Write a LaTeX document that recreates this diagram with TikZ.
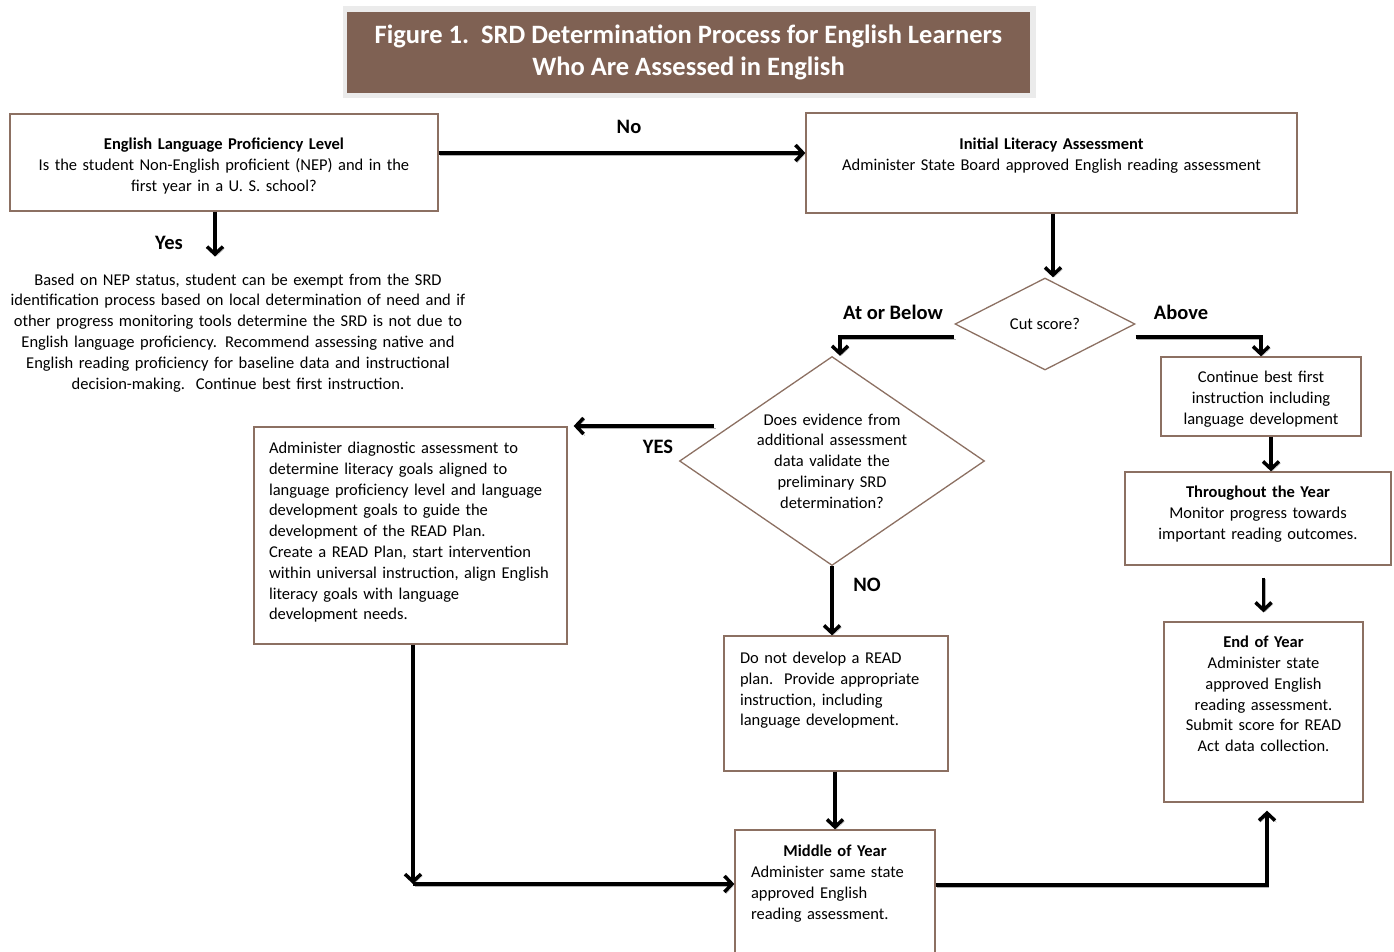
\documentclass[tikz,border=0pt]{standalone}
\usepackage{fontspec}
\setmainfont{Carlito}
\usetikzlibrary{arrows.meta,shapes.geometric,positioning}
\definecolor{brun}{RGB}{127,97,83}
\definecolor{bord}{RGB}{140,112,98}

\begin{document}
\begin{tikzpicture}[x=1pt,y=-1pt]
\tikzset{boite/.style={draw=bord, line width=1.3pt, rectangle, inner sep=0pt},
texte/.style={inner sep=0pt, font=\fontsize{16.5}{20.8}\selectfont},
losange/.style={draw=bord, line width=1.3pt, diamond, inner sep=0pt, align=center, font=\fontsize{16.5}{20.8}\selectfont},
etiq/.style={inner sep=0pt, font=\bfseries\fontsize{20.5}{24}\selectfont},
fleche/.style={line width=3.5pt, -{Straight Barb[length=7.5pt,width=16pt]}, preaction={draw=black!30, transform canvas={shift={(1.5pt,-1.8pt)}}}}}
\useasboundingbox (0,0) rectangle (1394,951);
\clip (0,0) rectangle (1394,951);
\fill[black!8] (343,6) rectangle (1036,98);
\node[fill=brun, text=white, minimum width=683pt, minimum height=81pt, align=center, font=\bfseries\fontsize{26.5}{32}\selectfont] (titre) at (688.5,52.5) {Figure 1.\ \ SRD Determination Process for English Learners\\Who Are Assessed in English};
\node[boite, minimum width=428pt, minimum height=97pt] (elp) at (224,162.5) {};
\node[texte, text width=420pt, align=center, below=24.5pt of elp.north] (elpt) {\textbf{English Language Proficiency Level}\\Is the student Non-English proficient (NEP) and in the\\first year in a U. S. school?};
\node[boite, minimum width=491pt, minimum height=100pt] (ila) at (1051.5,163) {};
\node[texte, text width=480pt, align=center, below=25.5pt of ila.north] (ilat) {\textbf{Initial Literacy Assessment}\\Administer State Board approved English reading assessment};
\node[texte, text width=460pt, align=center, anchor=north] (nep) at (238,273.5) {Based on NEP status, student can be exempt from the SRD\\identification process based on local determination of need and if\\other progress monitoring tools determine the SRD is not due to\\English language proficiency. Recommend assessing native and\\English reading proficiency for baseline data and instructional\\decision-making.\ \ Continue best first instruction.};
\node[losange, minimum width=180pt, minimum height=92pt] (cut) at (1045,324) {Cut score?};
\node[losange, minimum width=305pt, minimum height=209pt, aspect=1.46, text width=155pt] (evid) at (832,461) {Does evidence from\\additional assessment\\data validate the\\preliminary SRD\\determination?};
\node[boite, minimum width=200pt, minimum height=79pt] (cont) at (1261,396.5) {};
\node[texte, text width=190pt, align=center, below=14.5pt of cont.north] (contt) {Continue best first\\instruction including\\language development};
\node[boite, minimum width=266pt, minimum height=93pt] (thru) at (1258,518.5) {};
\node[texte, text width=256pt, align=center, below=14.5pt of thru.north] (thrut) {\textbf{Throughout the Year}\\Monitor progress towards\\important reading outcomes.};
\node[boite, minimum width=199pt, minimum height=180pt] (endy) at (1263.5,712) {};
\node[texte, text width=190pt, align=center, below=14.5pt of endy.north] (endyt) {\textbf{End of Year}\\Administer state\\approved English\\reading assessment.\\Submit score for READ\\Act data collection.};
\node[boite, minimum width=313pt, minimum height=217pt] (diag) at (410.5,535.5) {};
\node[texte, text width=283pt, align=left, below=15.5pt of diag.north] (diagt) {Administer diagnostic assessment to\\determine literacy goals aligned to\\language proficiency level and language\\development goals to guide the\\development of the READ Plan.\\Create a READ Plan, start intervention\\within universal instruction, align English\\literacy goals with language\\development needs.};
\node[boite, minimum width=224pt, minimum height=135pt] (donot) at (836,703.5) {};
\node[texte, text width=192pt, align=left, below=16.5pt of donot.north] (donott) {Do not develop a READ\\plan.\ \ Provide appropriate\\instruction, including\\language development.};
\node[boite, minimum width=200pt, minimum height=135pt] (mid) at (835,897.5) {};
\node[texte, text width=168pt, align=left, below=15.5pt of mid.north] (midt) {\makebox[168pt]{\textbf{Middle of Year}}\\Administer same state\\approved English\\reading assessment.};
\node[etiq] (lno) at (629,127) {No};
\node[etiq] (lyes) at (169,243) {Yes};
\node[etiq] (lbelow) at (893,312) {At or Below};
\node[etiq] (labove) at (1181,312) {Above};
\node[etiq] (lyes2) at (658,447) {YES};
\node[etiq] (lno2) at (867,585) {NO};
\coordinate (yesdep) at (714,426);
\coordinate (coin) at (413,884);
\draw[fleche] ([yshift=9.5pt]elp.east) -- ([yshift=9.5pt]elp.east -| ila.west);
\draw[fleche, shorten >=17pt] ([xshift=-9pt]elp.south) -- ([xshift=-9pt]elp.south |- nep.north);
\draw[fleche] ([xshift=1.5pt]ila.south) -- ([xshift=1.5pt]ila.south |- cut.north);
\draw[fleche] ([yshift=-13pt]cut.west) -| ([xshift=8pt]evid.north);
\draw[fleche] ([yshift=-13pt]cut.east) -| (cont.north);
\draw[fleche] ([xshift=10pt]cont.south) -- ([xshift=10pt]cont.south |- thru.north);
\draw[fleche, shorten <=12pt, shorten >=9pt] (thru.south -| endy.north) -- (endy.north);
\draw[fleche] (yesdep) -- ([xshift=6pt]yesdep -| diag.east);
\draw[fleche] (evid.south) -- (evid.south |- donot.north);
\draw[fleche] (donot.south -| mid.north) -- (mid.north);
\draw[fleche] (diag.south -| coin) -- (coin);
\draw[fleche] (coin) -- (coin -| mid.west);
\draw[fleche, shorten >=8pt] ([yshift=12.5pt]mid.east) -| ([xshift=3.5pt]endy.south);
\end{tikzpicture}
\end{document}
